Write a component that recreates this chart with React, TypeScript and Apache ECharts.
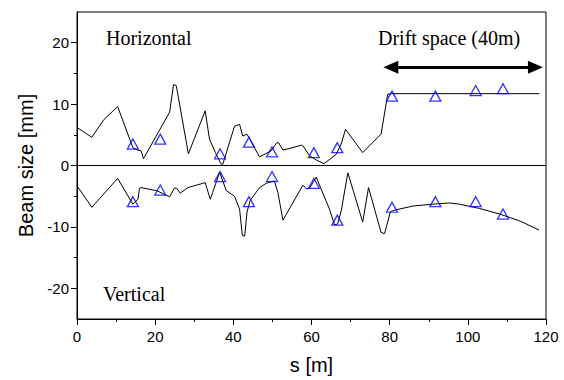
import React, { useEffect, useRef } from "react";
import * as echarts from "echarts";

// Horizontal beam size envelope [s (m), size (mm)]
const horizontalLine: [number, number][] = [
  [0, 6.2], [3.8, 4.6], [6.9, 7.5], [10.4, 9.6], [14.3, 2.9], [15.6, 2.5], [16.4, 2.4],
  [17.0, 1.1], [23.7, 8.7], [24.7, 13.2], [25.4, 13.0], [28.5, 1.9], [32.8, 8.9],
  [33.9, 4.3], [35.4, 2.1], [36.9, 0.2], [37.3, 0.2], [40.3, 6.4], [41.6, 6.7],
  [42.4, 4.8], [43.5, 5.1], [46.7, 1.4], [49.7, 2.4], [51.1, 3.7], [51.6, 3.7],
  [52.7, 2.5], [57.4, 3.3], [57.8, 3.2], [59.5, 1.6], [61.2, 0.9], [63.2, 0.3],
  [66.3, 1.8], [67.6, 3.5], [68.7, 5.9], [73.1, 2.1], [77.8, 5.1], [79.5, 11.6],
  [80.5, 11.7], [118.3, 11.7],
];

// Vertical beam size envelope (drawn negative)
const verticalLine: [number, number][] = [
  [0, -3.3], [3.8, -6.8], [10.4, -2.1], [14.3, -6.3], [15.6, -5.5], [16.0, -3.7],
  [16.4, -3.6], [20.4, -4.1], [23.7, -5.1], [24.9, -3.7], [25.5, -3.7], [26.4, -4.5],
  [28.4, -3.6], [32.2, -2.9], [32.8, -2.8], [34.1, -5.5], [34.7, -4.4], [36.5, -1.1],
  [38.2, -4.1], [40.3, -5.0], [41.6, -7.1], [42.3, -11.4], [42.9, -11.5], [43.5, -7.6],
  [44.3, -5.7], [46.7, -3.6], [48.4, -2.9], [50.5, -2.5], [51.4, -4.4], [52.7, -8.9],
  [57.8, -3.2], [58.7, -3.8], [59.5, -3.7], [61.2, -1.9], [64.6, -7.1], [65.9, -9.7],
  [66.7, -9.5], [67.6, -7.4], [69.3, -1.2], [73.1, -9.2], [74.6, -3.6], [77.8, -10.9],
  [78.7, -11.1], [80.2, -7.5], [81.7, -7.2], [86, -6.6], [91, -6.3], [95.3, -6.1],
  [97.9, -6.3], [103, -7.0], [108.1, -7.9], [113.2, -9.0], [118.2, -10.5],
];

// Measured points (triangles)
const markerS = [14.3, 21.3, 36.6, 44.0, 49.9, 60.6, 66.6, 80.6, 91.7, 102, 109];
const markerH = [3.5, 4.3, 1.9, 3.8, 2.2, 2.1, 2.9, 11.3, 11.3, 12.2, 12.5];
const markerV = [-5.9, -4.0, -1.8, -5.9, -1.8, -2.9, -8.9, -6.8, -5.9, -5.9, -7.9];

const xTicks = [0, 20, 40, 60, 80, 100, 120];
const yMajorTicks = [-20, -10, 0, 10, 20];
const yMinorTicks = [-15, -5, 5, 15];

// Drift space arrow (data coords)
const driftStart = 80.3;
const driftEnd = 117.3;
const driftLevel = 16;

const SANS = "Liberation Sans";
const SERIF = "Liberation Serif";

export default function App() {
  const ref = useRef<HTMLDivElement>(null);
  useEffect(() => {
    if (!ref.current) return;
    const chart = echarts.init(ref.current, undefined, { renderer: "svg" });
    const triStyle = {
      color: "transparent",
      borderColor: "#0000ff",
      borderWidth: 1.3,
    };
    const textStyle = (text: string) => ({
      text,
      fontFamily: SERIF,
      fontSize: 20,
      fill: "#000",
      verticalAlign: "middle",
    });
    chart.setOption({
      animation: false,
      backgroundColor: "#fff",
      grid: {
        left: 77,
        right: 18,
        top: 12,
        bottom: 59,
        show: true,
        borderColor: "#000",
        borderWidth: 1,
      },
      xAxis: {
        type: "value",
        min: xTicks[0],
        max: xTicks[xTicks.length - 1],
        interval: 20,
        name: "s [m]",
        nameLocation: "middle",
        nameGap: 36,
        nameTextStyle: { fontFamily: SANS, fontSize: 20, color: "#000" },
        axisLine: { onZero: false, lineStyle: { color: "#000", width: 1 } },
        axisTick: { show: true, length: 6, lineStyle: { color: "#000" } },
        minorTick: { show: true, splitNumber: 2, length: 3, lineStyle: { color: "#000" } },
        axisLabel: { fontFamily: SANS, fontSize: 15, color: "#000", margin: 10 },
        splitLine: { show: false },
      },
      yAxis: [
        {
          type: "value",
          min: -25,
          max: 25,
          name: "Beam size [mm]",
          nameLocation: "middle",
          nameGap: 36,
          nameTextStyle: { fontFamily: SANS, fontSize: 20, color: "#000" },
          axisLine: { onZero: false, lineStyle: { color: "#000", width: 1 } },
          axisTick: { show: true, length: 6, customValues: yMajorTicks, lineStyle: { color: "#000" } },
          axisLabel: { fontFamily: SANS, fontSize: 15, color: "#000", margin: 8, customValues: yMajorTicks },
          splitLine: { show: false },
        },
        {
          type: "value",
          min: -25,
          max: 25,
          position: "left",
          axisLine: { show: false, onZero: false },
          axisTick: { show: true, length: 3, customValues: yMinorTicks, lineStyle: { color: "#000" } },
          axisLabel: { show: false },
          splitLine: { show: false },
        },
      ],
      series: [
        {
          type: "line",
          name: "Horizontal",
          data: horizontalLine,
          showSymbol: false,
          lineStyle: { color: "#000", width: 1 },
          silent: true,
          markLine: {
            silent: true,
            symbol: ["triangle", "triangle"],
            symbolSize: [13, 15],
            lineStyle: { color: "#000", width: 3, type: "solid" },
            itemStyle: { color: "#000" },
            label: { show: false },
            data: [[{ coord: [driftStart, driftLevel] }, { coord: [driftEnd, driftLevel] }]],
          },
        },
        {
          type: "line",
          name: "Vertical",
          data: verticalLine,
          showSymbol: false,
          lineStyle: { color: "#000", width: 1 },
          silent: true,
          markLine: {
            silent: true,
            symbol: "none",
            lineStyle: { color: "#000", width: 1, type: "solid" },
            label: { show: false },
            data: [{ yAxis: 0 }],
          },
        },
        {
          type: "scatter",
          data: markerS.map((s, i) => [s, markerH[i]]),
          symbol: "triangle",
          symbolSize: [11, 10],
          itemStyle: triStyle,
          z: 5,
        },
        {
          type: "scatter",
          data: markerS.map((s, i) => [s, markerV[i]]),
          symbol: "triangle",
          symbolSize: [11, 10],
          itemStyle: triStyle,
          z: 5,
        },
      ],
      graphic: [
        { type: "text", x: 106, y: 38, style: textStyle("Horizontal") },
        { type: "text", x: 378, y: 38, style: textStyle("Drift space (40m)") },
        { type: "text", x: 103, y: 294, style: textStyle("Vertical") },
      ],
    });
    return () => chart.dispose();
  }, []);
  return (
    <div
      ref={ref}
      style={{ position: "fixed", left: 0, top: 0, width: 564, height: 380 }}
    />
  );
}
